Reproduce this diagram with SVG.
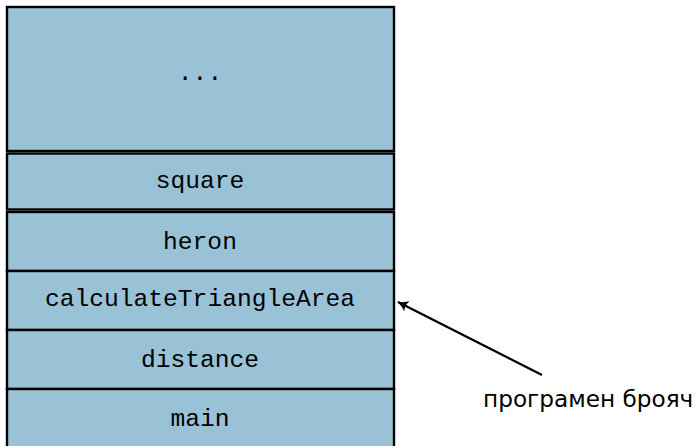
<svg xmlns="http://www.w3.org/2000/svg" width="698" height="446" viewBox="0 0 698 446">
<defs>
<style>
.box{fill:#99c2d6;stroke:#000;stroke-width:2.4}
.mono{font-family:"Liberation Mono","DejaVu Sans Mono",monospace;font-size:24.6px;fill:#000;text-anchor:middle}
.lbl{font-family:"DejaVu Sans","Liberation Sans",sans-serif;font-size:23.2px;fill:#000}
</style>
<marker id="ah" viewBox="0 0 12 12" refX="10" refY="6" markerWidth="12" markerHeight="12" markerUnits="userSpaceOnUse" orient="auto">
<path d="M0,0 Q4,4 11,6 Q4,8 0,12 Q3,6 0,0 Z" fill="#000"/>
</marker>
</defs>
<rect width="698" height="446" fill="#fff"/>
<g id="dots"><rect class="box" x="7" y="7" width="387" height="144"/><text class="mono" x="200" y="80">...</text></g>
<g id="square"><rect class="box" x="7" y="153.5" width="387" height="56"/><text class="mono" x="200" y="188">square</text></g>
<g id="heron"><rect class="box" x="7" y="212" width="387" height="59"/><text class="mono" x="200" y="249">heron</text></g>
<g id="calc"><rect class="box" x="7" y="271" width="387" height="59"/><text class="mono" x="200" y="306">calculateTriangleArea</text></g>
<g id="distance"><rect class="box" x="7" y="330" width="387" height="59"/><text class="mono" x="200" y="367">distance</text></g>
<g id="main"><rect class="box" x="7" y="389" width="387" height="62"/><text class="mono" x="200" y="426">main</text></g>
<g id="connectors"><line x1="542" y1="375" x2="398" y2="302" stroke="#000" stroke-width="2.4" marker-end="url(#ah)"/></g>
<g id="label"><text class="lbl" x="483" y="407">програмен брояч</text></g>
</svg>
